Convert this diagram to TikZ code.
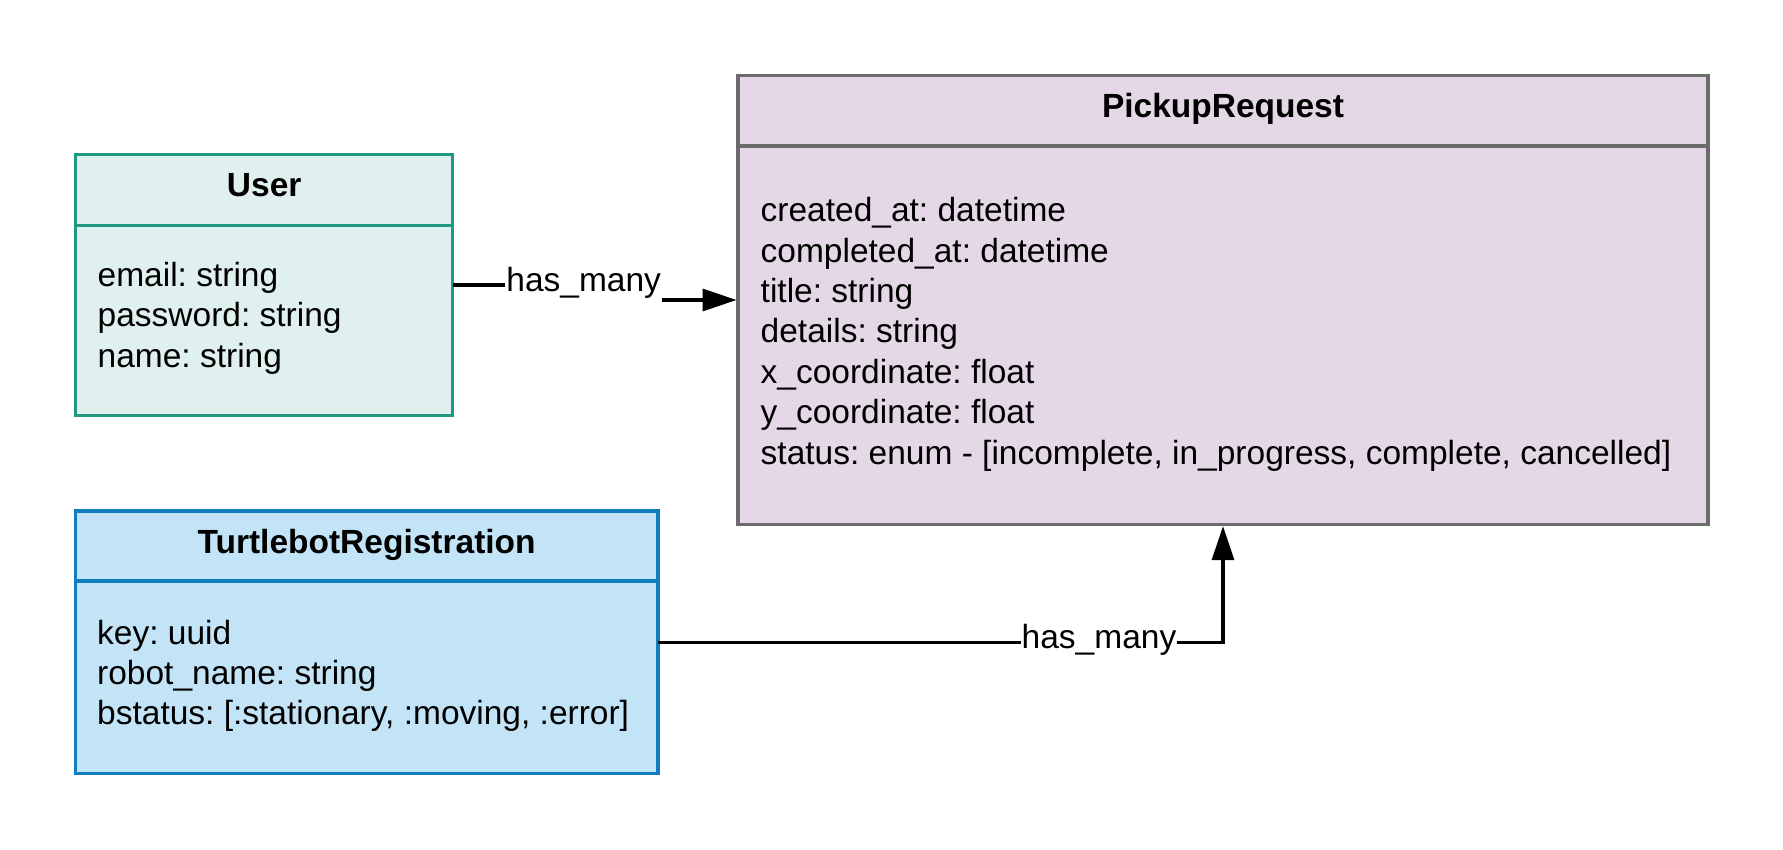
\documentclass[tikz,border=0pt]{standalone}
\usepackage{fontspec}
\setmainfont{Liberation Sans}
\usetikzlibrary{arrows.meta}
\frenchspacing
\definecolor{userfill}{HTML}{DFF0EE}
\definecolor{userline}{HTML}{1D9A80}
\definecolor{pickfill}{HTML}{E4D8E6}
\definecolor{pickline}{HTML}{6B6B6B}
\definecolor{turtfill}{HTML}{C3E4F6}
\definecolor{turtline}{HTML}{0F7DBF}
\begin{document}
\begin{tikzpicture}[x=1pt,y=-1pt,
  entity/.style={draw, line width=3.4pt, rectangle, inner sep=0pt, outer sep=0pt, anchor=north west},
  titletext/.style={anchor=base, inner sep=0pt, font=\fontsize{33.5}{40.4}\selectfont\bfseries},
  attrtext/.style={anchor=base west, inner sep=0pt, font=\fontsize{33.5}{40.4}\selectfont\frenchspacing},
  conn/.style={line width=3.4pt, -{Triangle[length=34pt,width=22pt]}, shorten >=1.5pt},
  rellabel/.style={anchor=base, fill=white, inner xsep=1pt, inner ysep=3pt, font=\fontsize{33.5}{40.4}\selectfont}
]
\useasboundingbox (0,0) rectangle (1783,849);
\fill[white] (0,0) rectangle (1783,849);

% User
\node[entity, draw=userline, fill=userfill, minimum width=377pt, minimum height=261.4pt] (user) at (75.7,154.3) {};
\draw[userline, line width=3.4pt] (user.west |- 0,225.3) coordinate (ud1) -- (user.east |- 0,225.3) coordinate (ud2);
\node[titletext] (usert) at (264.2,196.7) {User};
\node[attrtext] (u1) at (97.5,286.7) {email: string};
\node[attrtext] (u2) at (97.5,326.9) {password: string};
\node[attrtext] (u3) at (97.5,367.1) {name: string};

% PickupRequest
\node[entity, draw=pickline, fill=pickfill, minimum width=970pt, minimum height=449.4pt] (pick) at (738,75.3) {};
\draw[pickline, line width=3.6pt] (pick.west |- 0,146) coordinate (pd1) -- (pick.east |- 0,146) coordinate (pd2);
\node[titletext] (pickt) at (1223,117.5) {PickupRequest};
\node[attrtext] (p1) at (760.5,221.6) {created\_at: datetime};
\node[attrtext] (p2) at (760.5,262.0) {completed\_at: datetime};
\node[attrtext] (p3) at (760.5,302.4) {title: string};
\node[attrtext] (p4) at (760.5,342.8) {details: string};
\node[attrtext] (p5) at (760.5,383.2) {x\_coordinate: float};
\node[attrtext] (p6) at (760.5,423.6) {y\_coordinate: float};
\node[attrtext] (p7) at (760.5,464.0) {status: enum - [incomplete, in\_progress, complete, cancelled]};

% TurtlebotRegistration
\node[entity, draw=turtline, fill=turtfill, minimum width=582.7pt, minimum height=262.7pt] (turt) at (75.3,511) {};
\draw[turtline, line width=3.4pt] (turt.west |- 0,581) coordinate (td1) -- (turt.east |- 0,581) coordinate (td2);
\node[titletext] (turtt) at (366.6,553) {TurtlebotRegistration};
\node[attrtext] (t1) at (97,644) {key: uuid};
\node[attrtext] (t2) at (97,684.4) {robot\_name: string};
\node[attrtext] (t3) at (97,724.8) {bstatus: [:stationary, :moving, :error]};

% Relations
\coordinate (bend1) at (583.7,285);
\draw[conn] (user.east) -- (bend1) |- (pick.west);
\node[rellabel] (lab1) at (583.7,291.7) {has\_many};

\draw[conn] (turt.east) -| (pick.south);
\node[rellabel] (lab2) at (1099,648.5) {has\_many};
\end{tikzpicture}
\end{document}
